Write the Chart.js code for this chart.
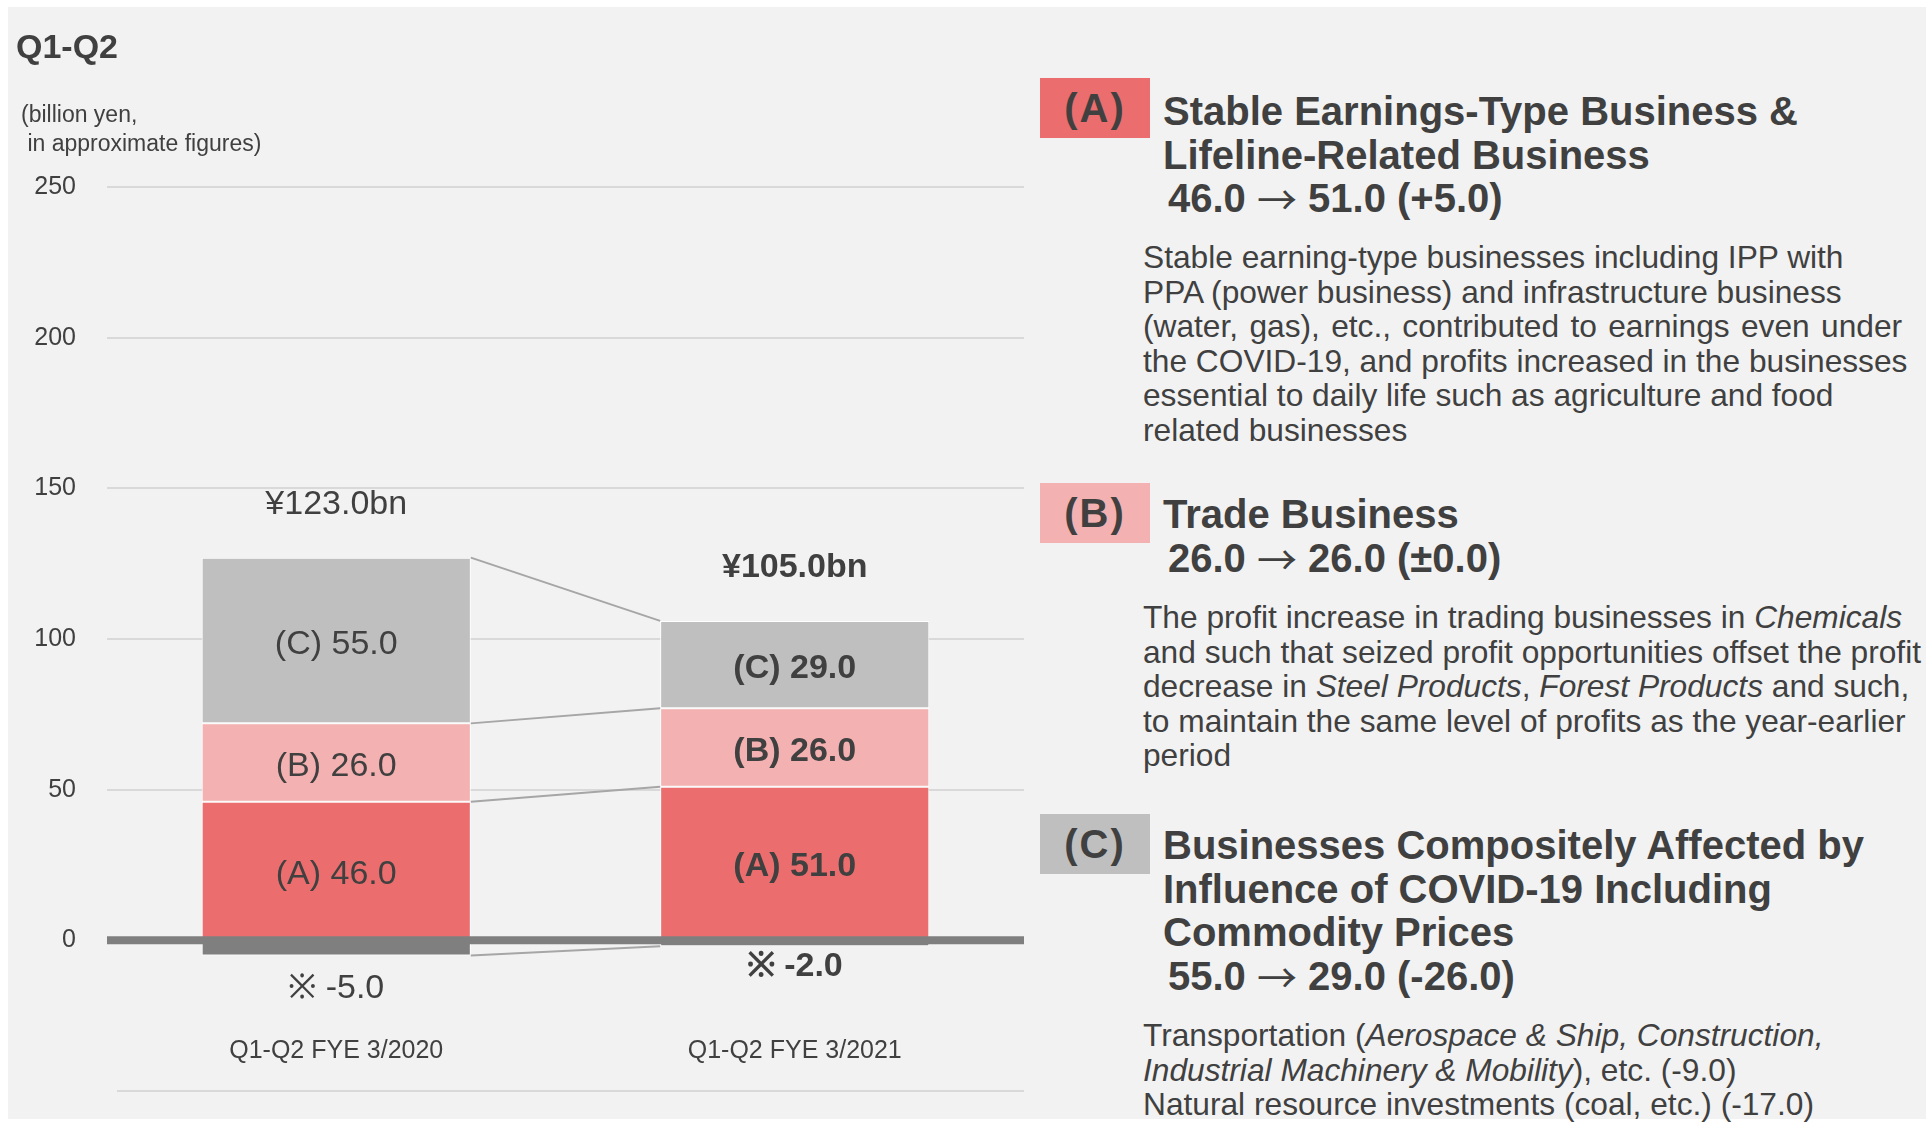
<!DOCTYPE html>
<html>
<head>
<meta charset="utf-8">
<script src="https://cdn.jsdelivr.net/npm/chart.js@4.4.0/dist/chart.umd.min.js"></script>
<style>
  html, body { margin: 0; padding: 0; background: #ffffff; }
  body { width: 1926px; height: 1122px; position: relative; overflow: hidden;
         font-family: "Liberation Sans", Arial, sans-serif; color: #404040; }
  #fondo { position: absolute; left: 8px; top: 7px; width: 1918px; height: 1112px; background: #f2f2f2; }
  #grafico { position: absolute; left: 0; top: 0; }
  .txt { position: absolute; white-space: nowrap; }
  .titulo { left: 16px; top: 26px; font-size: 34px; line-height: 40px; font-weight: bold; }
  .unidade { left: 21px; top: 100px; font-size: 23px; line-height: 28.5px; }
  .caixa { position: absolute; left: 1040px; width: 110px; height: 60px; font-size: 40px; font-weight: bold;
           line-height: 60px; text-align: center; letter-spacing: 2px; }
  .cab { left: 1163px; font-size: 40px; line-height: 43.5px; font-weight: bold; }
  .cab .seta { font-weight: normal; font-family: "Noto Sans CJK JP", "DejaVu Sans", sans-serif; line-height: 0;
               position: relative; top: 3px; }
  .cab .val { padding-left: 5px; }
  .corpo { left: 1143px; font-size: 31.7px; line-height: 34.5px; }
</style>
</head>
<body>
<div id="fondo"></div>
<canvas id="grafico" width="1040" height="1122"></canvas>

<div class="txt titulo">Q1-Q2</div>
<div class="txt unidade">(billion yen,<br>&nbsp;in approximate figures)</div>

<div class="caixa" style="top:78px; background:#eb6d6d;">(A)</div>
<div class="txt cab" style="top:90px;">Stable Earnings-Type Business &amp;<br>Lifeline-Related Business<br><span class="val">46.0 <span class="seta">&rarr;</span> 51.0 (+5.0)</span></div>
<div class="txt corpo" style="top:240px;">Stable earning-type businesses including IPP with<br>PPA (power business) and infrastructure business<br><span style="word-spacing:2.5px;">(water, gas), etc., contributed to earnings even under</span><br>the COVID-19, and profits increased in the businesses<br>essential to daily life such as agriculture and food<br>related businesses</div>

<div class="caixa" style="top:483px; background:#f4b1b1;">(B)</div>
<div class="txt cab" style="top:493px;">Trade Business<br><span class="val">26.0 <span class="seta">&rarr;</span> 26.0 (&plusmn;0.0)</span></div>
<div class="txt corpo" style="top:600px;">The profit increase in trading businesses in <i>Chemicals</i><br>and such that seized profit opportunities offset the profit<br>decrease in <i>Steel Products</i>, <i>Forest Products</i> and such,<br>to maintain the same level of profits as the year-earlier<br>period</div>

<div class="caixa" style="top:814px; background:#bfbfbf;">(C)</div>
<div class="txt cab" style="top:824px;">Businesses Compositely Affected by<br>Influence of COVID-19 Including<br>Commodity Prices<br><span class="val">55.0 <span class="seta">&rarr;</span> 29.0 (-26.0)</span></div>
<div class="txt corpo" style="top:1018px;">Transportation (<i>Aerospace &amp; Ship, Construction,</i><br><i>Industrial Machinery &amp; Mobility</i>), etc. (-9.0)<br>Natural resource investments (coal, etc.) (-17.0)</div>

<script>
// dados do grafico (bilhoes de iene, aproximado)
const categorias = ["Q1-Q2 FYE 3/2020", "Q1-Q2 FYE 3/2021"];
const negocioA = [46.0, 51.0];   // (A) Stable Earnings-Type / Lifeline
const negocioB = [26.0, 26.0];   // (B) Trade Business
const negocioC = [55.0, 29.0];   // (C) COVID-19 / Commodity Prices
const ajuste = [-5.0, -2.0];     // ※
const totais = [123.0, 105.0];
const rotulos = ["(A)", "(B)", "(C)"];

const corTexto = "#404040";
const fonte = '"Liberation Sans", Arial, sans-serif';
Chart.defaults.font.family = fonte;
Chart.defaults.color = corTexto;

const pluginRotulos = {
    id: "rotulos",
    afterDatasetsDraw(chart) {
        const ctx = chart.ctx;
        const area = chart.chartArea;
        const escalaX = chart.scales.x;
        const escalaY = chart.scales.y;
        const metas = [0, 1, 2, 3].map(i => chart.getDatasetMeta(i));

        ctx.save();

        // linha do zero por cima das barras
        const y0 = escalaY.getPixelForValue(0);
        ctx.strokeStyle = "#7f7f7f";
        ctx.lineWidth = 8;
        ctx.beginPath();
        ctx.moveTo(area.left, y0);
        ctx.lineTo(area.right, y0);
        ctx.stroke();

        // linha de baixo (um pouco mais curta)
        ctx.strokeStyle = "#d9d9d9";
        ctx.lineWidth = 2;
        ctx.beginPath();
        ctx.moveTo(area.left + 10, area.bottom);
        ctx.lineTo(area.right, area.bottom);
        ctx.stroke();

        // linhas ligando as barras
        ctx.strokeStyle = "#a6a6a6";
        ctx.lineWidth = 2;
        metas.forEach(meta => {
            const a = meta.data[0], b = meta.data[1];
            ctx.beginPath();
            ctx.moveTo(a.x + a.width / 2, a.y);
            ctx.lineTo(b.x - b.width / 2, b.y);
            ctx.stroke();
        });

        ctx.fillStyle = corTexto;
        ctx.textAlign = "center";
        ctx.textBaseline = "middle";

        // rotulos dentro das barras
        const series = [negocioA, negocioB, negocioC];
        series.forEach((serie, d) => {
            metas[d].data.forEach((el, i) => {
                ctx.font = (i === 1 ? "bold " : "") + "34px " + fonte;
                ctx.fillText(rotulos[d] + " " + serie[i].toFixed(1), el.x, (el.y + el.base) / 2 + 4);
            });
        });

        // totais acima
        metas[2].data.forEach((el, i) => {
            ctx.font = (i === 1 ? "bold " : "") + "34px " + fonte;
            ctx.fillText("¥" + totais[i].toFixed(1) + "bn", el.x, el.y - 53);
        });

        // ajuste negativo
        const desloc = [33, 20];
        metas[3].data.forEach((el, i) => {
            ctx.font = (i === 1 ? "bold " : "") + "34px " + fonte;
            ctx.fillText("※ " + ajuste[i].toFixed(1), el.x, el.y + desloc[i]);
        });

        // categorias
        ctx.font = "25px " + fonte;
        categorias.forEach((c, i) => {
            ctx.fillText(c, escalaX.getPixelForValue(i), area.bottom - 40);
        });

        ctx.restore();
    }
};

function criarDataset(label, dados, cor) {
    return {
        label: label,
        data: dados,
        backgroundColor: cor,
        borderColor: "#ffffff",
        borderWidth: 1,
        borderSkipped: false,
        barPercentage: 0.587,
        categoryPercentage: 1
    };
}

const ctx = document.getElementById("grafico").getContext("2d");
new Chart(ctx, {
    type: "bar",
    data: {
        labels: categorias,
        datasets: [
            criarDataset("(A)", negocioA, "#eb6d6d"),
            criarDataset("(B)", negocioB, "#f4b1b1"),
            criarDataset("(C)", negocioC, "#bfbfbf"),
            criarDataset("※", ajuste, "#7f7f7f")
        ]
    },
    options: {
        responsive: false,
        animation: false,
        layout: { padding: { left: 0, top: 187, right: 16, bottom: 31 } },
        plugins: {
            legend: { display: false },
            tooltip: { enabled: false }
        },
        scales: {
            x: {
                stacked: true,
                display: false
            },
            y: {
                stacked: true,
                min: -50,
                max: 250,
                afterFit: scale => {
                    scale.width = 107;
                    scale.paddingTop = 0;
                    scale.paddingBottom = 0;
                },
                border: { display: false },
                grid: {
                    drawTicks: false,
                    color: c => c.tick.value <= 0 ? "rgba(0,0,0,0)" : "#d9d9d9",
                    lineWidth: 2
                },
                ticks: {
                    stepSize: 50,
                    padding: 31,
                    color: corTexto,
                    font: { size: 25 },
                    callback: v => v < 0 ? "" : v
                }
            }
        }
    },
    plugins: [pluginRotulos]
});
</script>
</body>
</html>
